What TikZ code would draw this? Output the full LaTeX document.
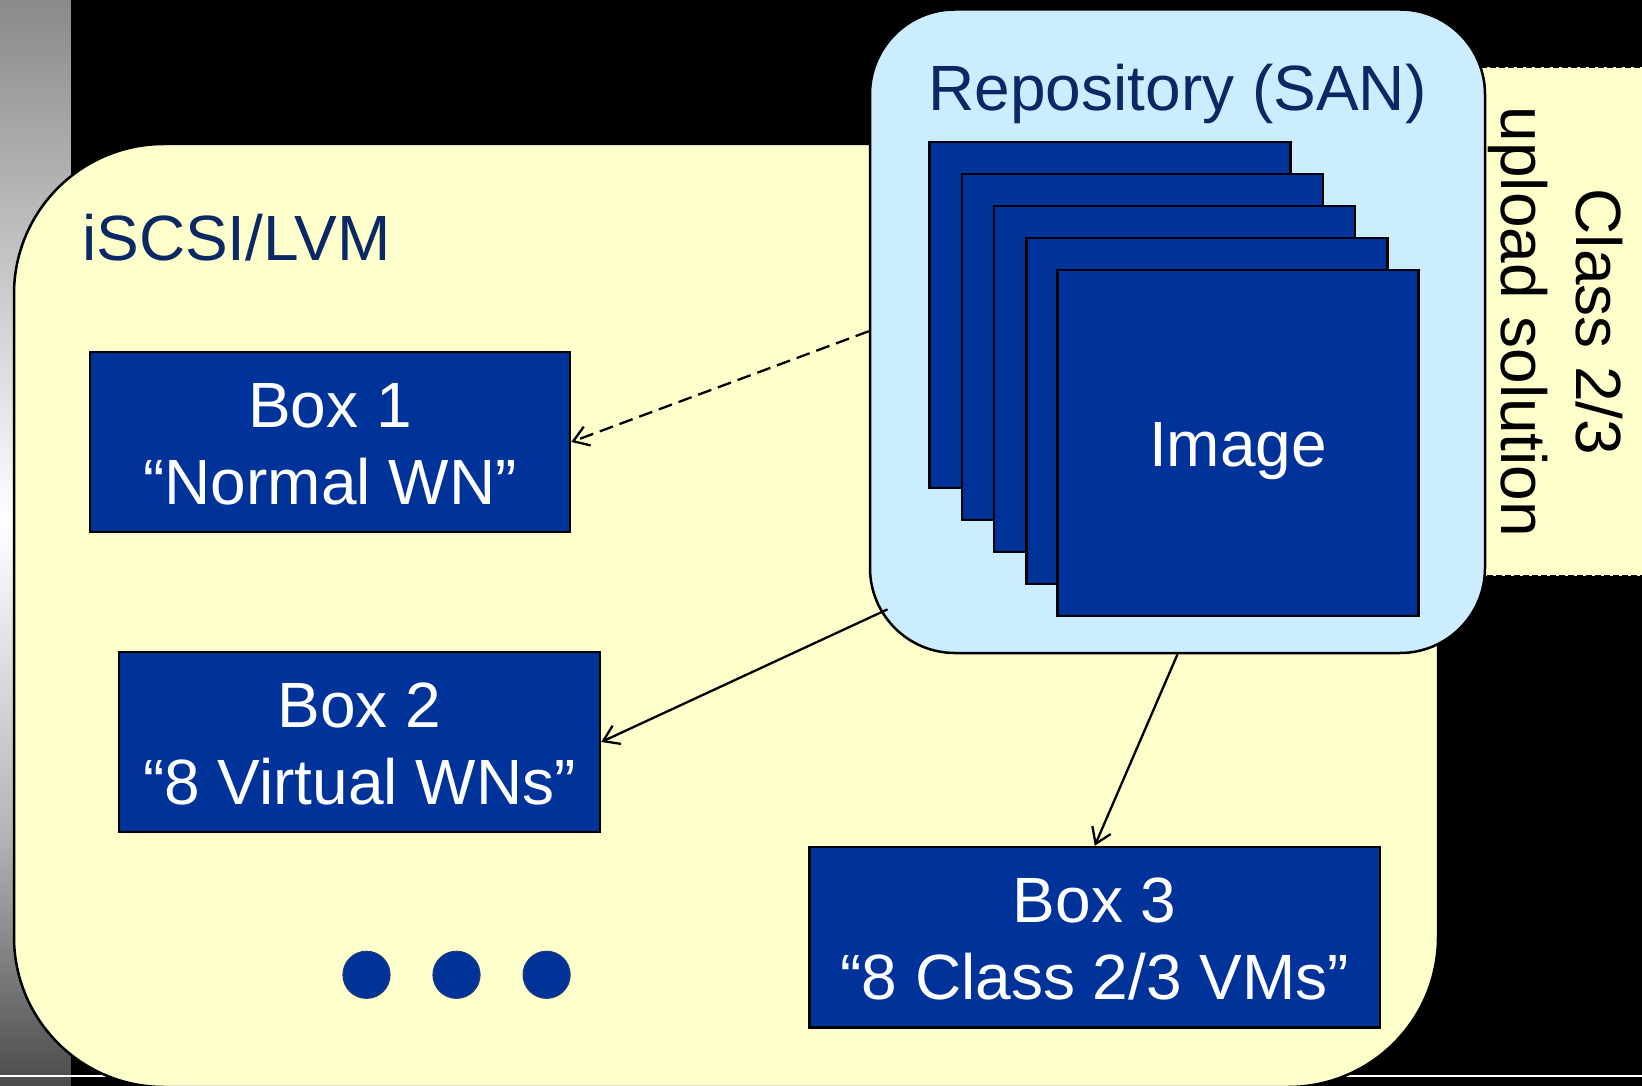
\documentclass[tikz,border=0pt]{standalone}
\usepackage{fontspec}
\setmainfont{Liberation Sans}
\usetikzlibrary{arrows.meta}
\definecolor{boxblue}{HTML}{003399}
\definecolor{sanblue}{HTML}{CCECFF}
\definecolor{paleyellow}{HTML}{FFFFCC}
\definecolor{navytext}{RGB}{10,40,100}
\definecolor{dotedge}{HTML}{1F3A7A}
\begin{document}
\begin{tikzpicture}[x=1pt,y=-1pt,
  bigtext/.style={font=\fontsize{64}{77}\selectfont},
  bluebox/.style={draw=black, line width=2.5pt, fill=boxblue, text=white, align=center, inner sep=0pt, bigtext, text height=124pt, text depth=0pt},
  imgrect/.style={draw=black, line width=2.5pt, fill=boxblue, minimum width=361pt, minimum height=346pt, inner sep=0pt, text=white, bigtext},
  conn/.style={line width=2.3pt, -{Straight Barb[length=15pt,width=20pt]}},
  dotnode/.style={circle, fill=boxblue, draw=dotedge, line width=1.2pt, minimum size=47pt, inner sep=0pt},
  titletext/.style={bigtext, text=navytext, inner sep=0pt},
]
\useasboundingbox (0,0) rectangle (1642,1086);
\clip (0,0) rectangle (1642,1086);
% background
\fill[black] (0,0) rectangle (1642,1086);
\foreach \yy in {0,3,...,1086} {
  \pgfmathsetmacro{\gv}{(\yy<520)*(0.541+0.459*\yy/520) + (\yy>=520)*(\yy<836)*(1-0.294*(\yy-520)/316) + (\yy>=836)*(0.706-0.416*(\yy-836)/250)}
  \definecolor{stripc}{gray}{\gv}
  \fill[stripc] (0,\yy) rectangle (71,\yy+3.6);
}
\draw[white, line width=2.5pt] (0,1076) -- (1642,1076);

% dashed side box
\node[draw=black, fill=paleyellow, line width=2pt, dash pattern=on 6pt off 3pt,
      minimum width=182pt, minimum height=509pt, inner sep=0pt] (upbox) at (1569,321.5) {};
\node[rotate=-90, align=center, inner sep=0pt, font=\fontsize{64}{75}\selectfont] (uptext) at (1556,322) {Class 2/3\\upload solution};

% big yellow area
\draw[fill=paleyellow, line width=2.5pt, rounded corners=150pt] (14,144) rectangle (1438,1087);
\node[titletext, anchor=base west] (iscsi) at (82,260.5) {iSCSI/LVM};

% boxes
\node[bluebox, minimum width=480pt, minimum height=180pt] (box1) at (330,442) {Box 1\\“Normal WN”};
\node[bluebox, minimum width=481pt, minimum height=180pt] (box2) at (359.5,742) {Box 2\\“8 Virtual WNs”};
\node[bluebox, minimum width=570.5pt, minimum height=180.5pt] (box3) at (1094.75,937.25) {Box 3\\“8 Class 2/3 VMs”};

% dots
\node[dotnode] (d1) at (366.5,974.8) {};
\node[dotnode] (d2) at (456.5,974.8) {};
\node[dotnode] (d3) at (546.6,974.8) {};

% repository
\node[draw=black, line width=2.5pt, fill=sanblue, rounded corners=85pt,
      minimum width=615pt, minimum height=643.5pt, inner sep=0pt] (san) at (1177.5,331.25) {};
\node[titletext, anchor=base] (santitle) at (1177.5,110.6) {Repository (SAN)};
\node[imgrect] (img1) at (1110.1,314.85) {};
\node[imgrect] (img2) at (1142.4,346.95) {};
\node[imgrect] (img3) at (1174.7,379.05) {};
\node[imgrect] (img4) at (1207.0,411.15) {};
\node[imgrect, text height=47pt, text depth=0pt] (img5) at (1238.0,443.0) {Image};

% connectors
\coordinate (sanexit) at (887.6,609.3);
\draw[conn, dash pattern=on 14pt off 7pt] (san.west) -- (box1.east);
\draw[conn] (sanexit) -- (box2.east);
\draw[conn] (san.south) -- (box3.north);
\end{tikzpicture}
\end{document}
